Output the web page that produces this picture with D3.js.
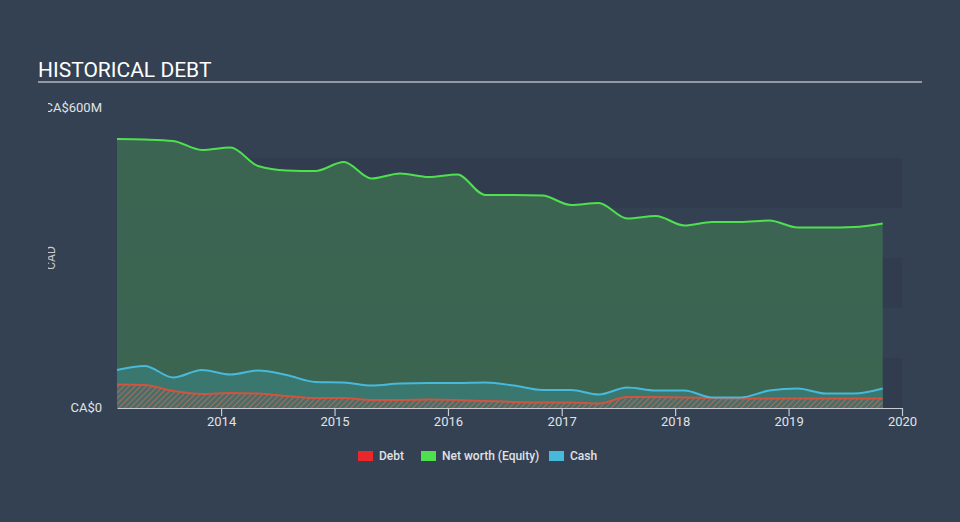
<!DOCTYPE html>
<html>
<head>
<meta charset="utf-8">
<script src="https://cdn.jsdelivr.net/npm/d3@7/dist/d3.min.js"></script>
<style>
  html, body { margin: 0; padding: 0; background: #344152; }
  svg { display: block; font-family: Roboto, "Noto Sans", sans-serif; }
</style>
</head>
<body>
<svg id="chart" width="960" height="522"></svg>
<script>
// Quarter-end dates (fiscal quarters ending Jan/Apr/Jul/Oct)
const dates = [
  "2013-01-31","2013-04-30","2013-07-31","2013-10-31",
  "2014-01-31","2014-04-30","2014-07-31","2014-10-31",
  "2015-01-31","2015-04-30","2015-07-31","2015-10-31",
  "2016-01-31","2016-04-30","2016-07-31","2016-10-31",
  "2017-01-31","2017-04-30","2017-07-31","2017-10-31",
  "2018-01-31","2018-04-30","2018-07-31","2018-10-31",
  "2019-01-31","2019-04-30","2019-07-31","2019-10-31"
];
// Values in CA$ millions
const equity = [538,537,534,516, 521,484,475,474, 492,459,469,462, 467,426,426,425, 406,410,379,384, 365,372,372,375, 361,361,362,369];
const cash   = [76,84,61,76, 67,75,66,52, 51,45,49,50, 50,51,45,36, 36,27,41,35, 35,21,21,35, 39,29,29,39];
const debt   = [47,46,34,28, 30,29,24,20, 20,16,16,17, 16,14,12,11, 11,9,22,22, 21,20,19,19, 19,19,19,19];
const yTicks = [0, 600];
const yTickLabels = ["CA$0", "CA$600M"];
const xTickYears = [2014, 2015, 2016, 2017, 2018, 2019, 2020];
const legendItems = [
  {name: "Debt", color: "#e8282b"},
  {name: "Net worth (Equity)", color: "#4fe04f"},
  {name: "Cash", color: "#47b9da"}
];

const svg = d3.select("#chart");
const W = 960, H = 522;
const m = {left: 117, right: 58, top: 108, bottom: 114};
const parse = d3.timeParse("%Y-%m-%d");
const data = dates.map((d, i) => ({date: parse(d), equity: equity[i], cash: cash[i], debt: debt[i]}));

const x = d3.scaleTime()
  .domain([parse(dates[0]), new Date(2020, 0, 1)])
  .range([m.left, W - m.right]);
const y = d3.scaleLinear().domain([0, 600]).range([H - m.bottom, m.top]);

const defs = svg.append("defs");
const pat = defs.append("pattern")
  .attr("id", "hatch").attr("patternUnits", "userSpaceOnUse")
  .attr("width", 4).attr("height", 4)
  .attr("patternTransform", "rotate(45)");
pat.append("rect").attr("width", 4).attr("height", 4).attr("fill", "#5a6460").attr("opacity", 0.55);
pat.append("line").attr("x1", 0).attr("y1", 0).attr("x2", 0).attr("y2", 4)
  .attr("stroke", "#b8705c").attr("stroke-width", 1.6);

defs.append("clipPath").attr("id", "leftclip")
  .append("rect").attr("x", 48).attr("y", 0).attr("width", W).attr("height", H);

// Title
svg.append("text").attr("x", 38).attr("y", 77)
  .attr("fill", "#ffffff").attr("font-size", 21).text("HISTORICAL DEBT");
svg.append("line").attr("x1", 38).attr("x2", 922).attr("y1", 82).attr("y2", 82)
  .attr("stroke", "#b4b9c0").attr("stroke-width", 1.5);

// Background bands (every 100M, darker on 0-100, 200-300, 400-500)
const bandStarts = [0, 200, 400];
svg.append("g").selectAll("rect").data(bandStarts).join("rect")
  .attr("x", m.left).attr("width", x.range()[1] - m.left)
  .attr("y", d => y(d + 100)).attr("height", d => y(d) - y(d + 100))
  .attr("fill", "#2e3a4a").attr("opacity", 0.5);

const curve = d3.curveMonotoneX;
const area = key => d3.area().curve(curve).x(d => x(d.date)).y0(y(0)).y1(d => y(d[key]));
const line = key => d3.line().curve(curve).x(d => x(d.date)).y(d => y(d[key]));

svg.append("path").datum(data).attr("d", area("equity"))
  .attr("fill", "#3d6b52").attr("opacity", 0.85);
svg.append("path").datum(data).attr("d", area("cash"))
  .attr("fill", "#3b7a74").attr("opacity", 0.85);
svg.append("path").datum(data).attr("d", area("debt"))
  .attr("fill", "url(#hatch)");

svg.append("path").datum(data).attr("d", line("debt"))
  .attr("fill", "none").attr("stroke", "#d1543f").attr("stroke-width", 2);
svg.append("path").datum(data).attr("d", line("cash"))
  .attr("fill", "none").attr("stroke", "#47b9da").attr("stroke-width", 2);
svg.append("path").datum(data).attr("d", line("equity"))
  .attr("fill", "none").attr("stroke", "#4fe04f").attr("stroke-width", 2);

// X axis
const xAxis = d3.axisBottom(x)
  .tickValues(xTickYears.map(yr => new Date(yr, 0, 1)))
  .tickFormat(d3.timeFormat("%Y"))
  .tickSize(8).tickSizeOuter(0);
const gx = svg.append("g").attr("transform", `translate(0,${y(0)})`).call(xAxis);
gx.select(".domain").attr("stroke", "#c8ccd2").attr("stroke-width", 1.2);
gx.selectAll(".tick line").attr("stroke", "#c8ccd2").attr("stroke-width", 1.2);
gx.selectAll(".tick text").attr("fill", "#e0e3e6").attr("font-size", 13)
  .attr("dy", "0.5em").attr("font-family", "Roboto, sans-serif");

// Y labels
const gy = svg.append("g").attr("clip-path", "url(#leftclip)");
gy.selectAll("text.yt").data(yTicks).join("text")
  .attr("class", "yt")
  .attr("x", 102).attr("y", d => y(d) + 4)
  .attr("text-anchor", "end")
  .attr("fill", "#e0e3e6").attr("font-size", 13)
  .text((d, i) => yTickLabels[i]);
gy.append("text")
  .attr("transform", `translate(55,${(y(0) + y(600)) / 2}) rotate(-90)`)
  .attr("text-anchor", "middle")
  .attr("fill", "#c8ccd2").attr("font-size", 12).text("CAD");

// Legend
const lg = svg.append("g");
const legendX = [358, 421, 549];
legendItems.forEach((it, i) => {
  lg.append("rect").attr("x", legendX[i]).attr("y", 451).attr("width", 15).attr("height", 10)
    .attr("fill", it.color);
  lg.append("text").attr("x", legendX[i] + 21).attr("y", 460)
    .attr("fill", "#e0e3e6").attr("font-size", 12).attr("font-weight", 500).text(it.name);
});
</script>
</body>
</html>
